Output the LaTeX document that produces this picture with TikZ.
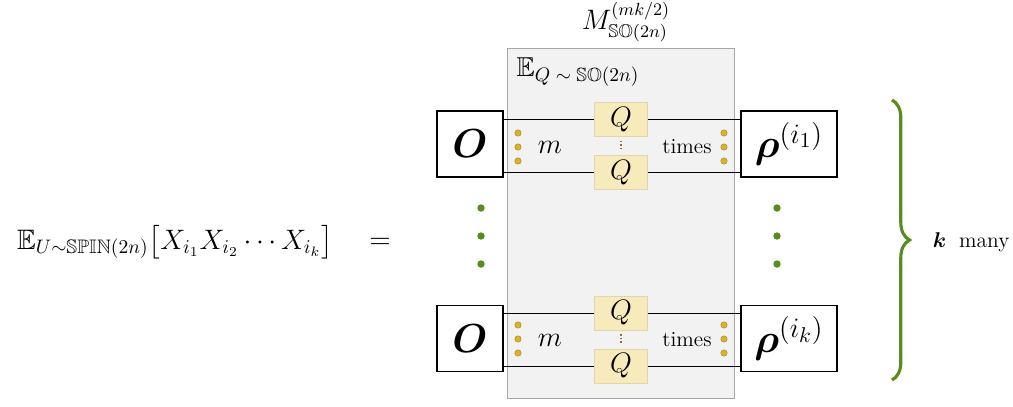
\documentclass[tikz,border=0pt]{standalone}
\usepackage{amsmath, amssymb}
\usetikzlibrary{positioning, backgrounds, calc, decorations.pathreplacing}

\definecolor{qfill}{RGB}{247,235,187}
\definecolor{dotyellow}{RGB}{222,178,40}
\definecolor{dotbrown}{RGB}{150,110,45}
\definecolor{kgreen}{RGB}{88,140,28}

\begin{document}
\begin{tikzpicture}[
		x=0.018cm, y=-0.018cm,
		% Font sizes
		bigmath/.style={font=\fontsize{14.4}{17}\selectfont},
		midmath/.style={font=\fontsize{14}{16}\selectfont},
		txt/.style={font=\fontsize{11}{13}\selectfont},
		% Style for the outer operator and state boxes
		obox/.style={draw, semithick, fill=white, minimum width=1.19cm, minimum height=1.19cm, inner sep=0pt, font=\fontsize{21}{25}\selectfont},
		rbox/.style={obox, minimum width=1.73cm},
		% Style for the Haar-random orthogonal gates
		qbox/.style={fill=qfill, draw=qfill!80!gray, thin, minimum width=0.95cm, minimum height=0.61cm, inner sep=0pt, midmath},
		% Style for the averaging region
		avg/.style={fill=gray!10, draw=gray!70, semithick},
		% Small dots
		ydot/.style={circle, fill=dotyellow, draw=dotyellow!70!black, line width=0.2pt, inner sep=0pt, minimum size=3.3pt},
		gdot/.style={circle, fill=kgreen, inner sep=0pt, minimum size=3.8pt},
		wire/.style={thin},
		vdots/.style={dotbrown, densely dotted, thick},
		kbrace/.style={decorate, decoration={brace, amplitude=9pt}, kgreen, line width=1.6pt}
		]
		\useasboundingbox (0,0) rectangle (1013,406);
		
		% ==============================================================================
		% 1. LEFT-HAND SIDE
		% ==============================================================================
		\node[bigmath] (lhs) at (175,242) {$\mathbb{E}_{U\sim\mathbb{SPIN}(2n)}\big[X_{i_1}X_{i_2}\cdots X_{i_k}\big]$};
		\node[bigmath] (eq) at (380,243) {$=$};
		
		% ==============================================================================
		% 2. AVERAGING REGION
		% ==============================================================================
		\begin{scope}[on background layer]
			\node[avg, minimum width=4.1cm, minimum height=6.3cm, inner sep=0pt] (avgbox) at (621,223.5) {};
		\end{scope}
		\node[font=\fontsize{13.5}{16}\selectfont, anchor=north, inner sep=1pt] (mlabel) at (626,0) {$M^{(mk/2)}_{\mathbb{SO}(2n)}$};
		\node[midmath, anchor=north west, inner sep=5pt] (elabel) at (avgbox.north west) {$\mathbb{E}_{Q\;\sim\;\mathbb{SO}(2n)}$};
		
		% ==============================================================================
		% 3. FIRST ROW
		% ==============================================================================
		\node[obox] (O1) at (470,144) {$\boldsymbol{O}$};
		\node[rbox] (R1) at (789,144) {$\boldsymbol{\rho}^{(i_1)}$};
		\node[qbox] (Q1a) at (621,119.5) {$Q$};
		\node[qbox] (Q1b) at (621,172.5) {$Q$};
		\begin{scope}[on background layer]
			\draw[wire] (O1.east |- Q1a) -- (R1.west |- Q1a);
			\draw[wire] (O1.east |- Q1b) -- (R1.west |- Q1b);
		\end{scope}
		\node[ydot] (l1a) at (518,133) {};
		\node[ydot] (l1b) at (518,147) {};
		\node[ydot] (l1c) at (518,161) {};
		\node[ydot] (r1a) at (724,133) {};
		\node[ydot] (r1b) at (724,147) {};
		\node[ydot] (r1c) at (724,161) {};
		\draw[vdots] ($(Q1a.south)+(0,4)$) -- ($(Q1b.north)+(0,-4)$);
		\node[midmath] (m1) at (550,147) {$m$};
		\node[txt] (t1) at (687,147) {times};
		
		% ==============================================================================
		% 4. LAST ROW
		% ==============================================================================
		\node[obox] (Ok) at (470,338.5) {$\boldsymbol{O}$};
		\node[rbox] (Rk) at (789,338.5) {$\boldsymbol{\rho}^{(i_k)}$};
		\node[qbox] (Qka) at (621,313) {$Q$};
		\node[qbox] (Qkb) at (621,366) {$Q$};
		\begin{scope}[on background layer]
			\draw[wire] (Ok.east |- Qka) -- (Rk.west |- Qka);
			\draw[wire] (Ok.east |- Qkb) -- (Rk.west |- Qkb);
		\end{scope}
		\node[ydot] (lka) at (518,325) {};
		\node[ydot] (lkb) at (518,339) {};
		\node[ydot] (lkc) at (518,353) {};
		\node[ydot] (rka) at (724,325) {};
		\node[ydot] (rkb) at (724,339) {};
		\node[ydot] (rkc) at (724,353) {};
		\draw[vdots] ($(Qka.south)+(0,4)$) -- ($(Qkb.north)+(0,-4)$);
		\node[midmath] (mk) at (550,340) {$m$};
		\node[txt] (tk) at (687,340) {times};
		
		% ==============================================================================
		% 5. VERTICAL DOTS AND BRACE
		% ==============================================================================
		\node[gdot] (gl1) at (481,208) {};
		\node[gdot] (gl2) at (481,236) {};
		\node[gdot] (gl3) at (481,264) {};
		\node[gdot] (gr1) at (777,208) {};
		\node[gdot] (gr2) at (777,236) {};
		\node[gdot] (gr3) at (777,264) {};
		\coordinate (btop) at (892,100);
		\coordinate (bbot) at (892,380);
		\draw[kbrace] (btop) -- (bbot);
		\node[txt, anchor=west] (kmany) at (926,242) {$\boldsymbol{k}$\; many};
	\end{tikzpicture}
\end{document}
